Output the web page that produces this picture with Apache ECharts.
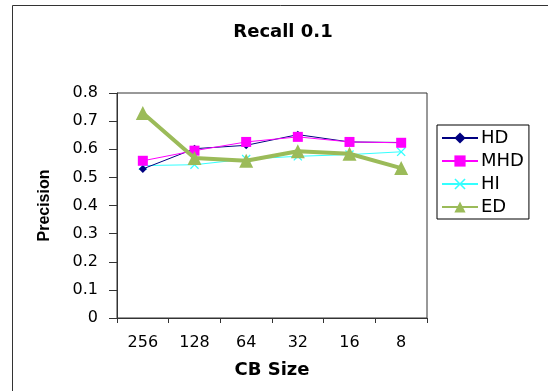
<!DOCTYPE html>
<html><head><meta charset="utf-8">
<script src="https://cdn.jsdelivr.net/npm/echarts@6/dist/echarts.min.js"></script>
<style>html,body{margin:0;padding:0;background:#fff}#c{width:548px;height:391px}</style>
</head><body><div id="c"></div>
<script>
const categories = ['256','128','64','32','16','8'];
const HD  = [0.530, 0.602, 0.614, 0.652, 0.626, 0.624];
const MHD = [0.559, 0.595, 0.626, 0.644, 0.626, 0.623];
const HI  = [0.542, 0.545, 0.565, 0.575, 0.581, 0.591];
const ED  = [0.729, 0.569, 0.559, 0.593, 0.584, 0.533];
const yTicks = [0, 0.1, 0.2, 0.3, 0.4, 0.5, 0.6, 0.7, 0.8];

const xSym = 'path://M0,1L1,0L5,4L9,0L10,1L6,5L10,9L9,10L5,6L1,10L0,9L4,5Z';
const wide = 'DejaVu Sans, Verdana, sans-serif';
const narrow = 'Liberation Sans, Arial, sans-serif';
const chart = echarts.init(document.getElementById('c'));
chart.setOption({
  animation: false,
  title: { text: 'Recall 0.1', left: 278, top: 18, textAlign: 'center',
    textStyle: { fontFamily: wide, fontSize: 18, fontWeight: 'bold', color: '#000' } },
  graphic: [{ type: 'rect', shape: { x: 12.5, y: 5.5, width: 560, height: 420 },
    style: { fill: 'none', stroke: '#333', lineWidth: 1 }, silent: true }],
  legend: {
    orient: 'vertical', left: 437, top: 125,
    padding: [4, 5, 3, 4], itemGap: 5, itemWidth: 36, itemHeight: 14,
    borderColor: '#000', borderWidth: 1,
    textStyle: { fontFamily: wide, fontSize: 18, lineHeight: 18, color: '#000', padding: [0,0,0,-2] },
    data: ['HD','MHD','HI','ED']
  },
  grid: { left: 117, top: 93, width: 310, height: 225, show: true,
    borderColor: '#333', borderWidth: 1 },
  xAxis: {
    type: 'category', data: categories, boundaryGap: true,
    name: 'CB Size', nameLocation: 'middle', nameGap: 43,
    nameTextStyle: { fontFamily: wide, fontSize: 18, fontWeight: 'bold', color: '#000' },
    axisLine: { lineStyle: { color: '#333' } },
    axisTick: { show: true, length: 5, lineStyle: { color: '#333' } },
    axisLabel: { fontFamily: wide, fontSize: 16, color: '#000', margin: 17 },
    splitLine: { show: false }
  },
  yAxis: {
    type: 'value', min: 0, max: 0.8, interval: 0.1,
    name: 'Precision', nameLocation: 'middle', nameGap: 64,
    nameTextStyle: { fontFamily: narrow, fontSize: 16, fontWeight: 'bold', color: '#000' },
    axisLine: { show: true, lineStyle: { color: '#333' } },
    axisTick: { show: true, length: 8, lineStyle: { color: '#333' } },
    axisLabel: { fontFamily: wide, fontSize: 16, color: '#000', margin: 19,
      formatter: v => (yTicks.includes(Math.round(v*10)/10) ? (v === 0 ? '0' : v.toFixed(1)) : '') },
    splitLine: { show: false }
  },
  series: [
    { name: 'HD', type: 'line', data: HD, symbol: 'diamond', symbolSize: 8,
      lineStyle: { color: '#000080', width: 1 }, itemStyle: { color: '#000080' }, z: 3 },
    { name: 'MHD', type: 'line', data: MHD, symbol: 'rect', symbolSize: 10,
      lineStyle: { color: '#FF00FF', width: 1 }, itemStyle: { color: '#FF00FF' }, z: 4 },
    { name: 'HI', type: 'line', data: HI, symbol: xSym, symbolSize: 9,
      lineStyle: { color: '#33FFFF', width: 1 }, itemStyle: { color: '#33FFFF' }, z: 2 },
    { name: 'ED', type: 'line', data: ED, symbol: 'triangle', symbolSize: 14,
      lineStyle: { color: '#9BBB59', width: 4 }, itemStyle: { color: '#9BBB59' }, z: 5 }
  ]
});
</script></body></html>
